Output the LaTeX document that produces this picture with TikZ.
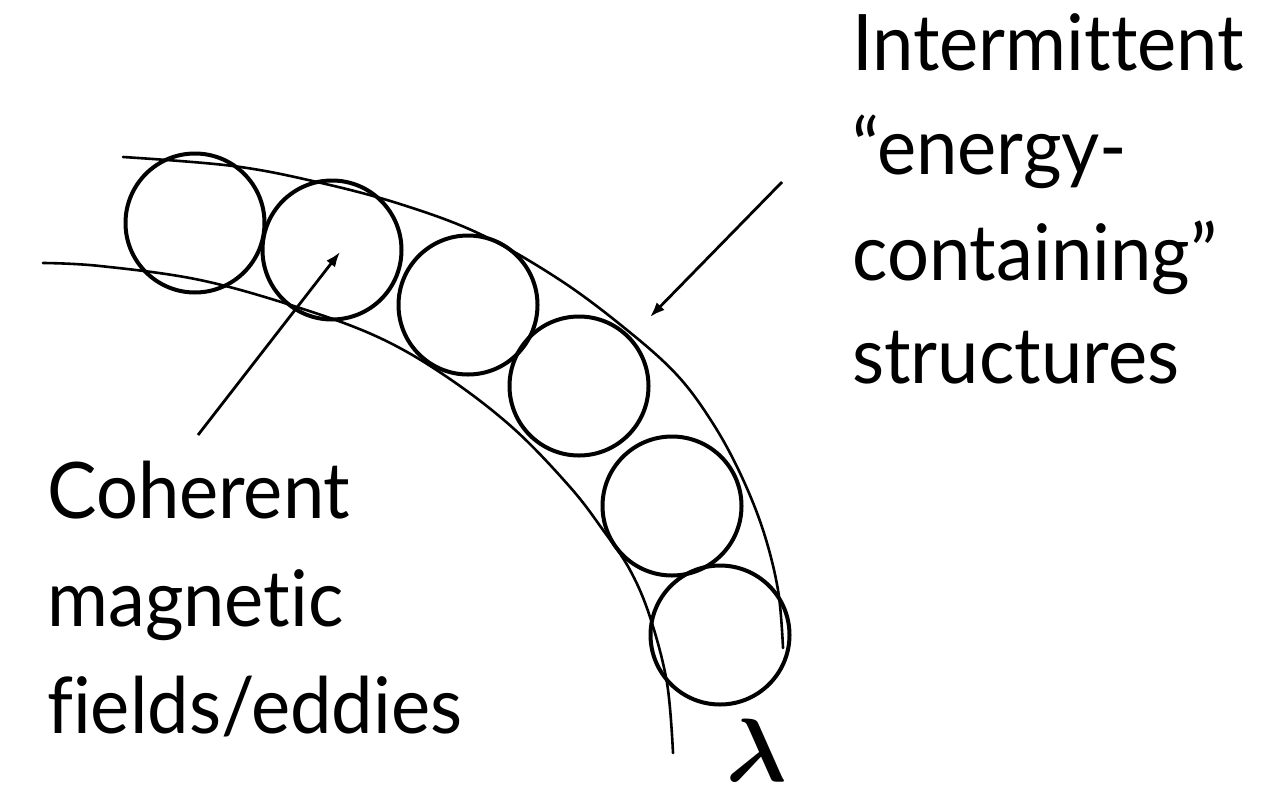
\documentclass[tikz,border=0pt]{standalone}
\usepackage{fix-cm}
\usepackage{fontspec}
\setmainfont{Lato}[Ligatures=NoCommon, FakeStretch=0.95]
\usepackage{bm}
\usetikzlibrary{arrows.meta}
\begin{document}
\begin{tikzpicture}[x=1pt,y=-1pt,
  eddy/.style={draw, line width=4pt, circle, minimum size=139pt, inner sep=0pt},
  band/.style={line width=2.6pt, line cap=round},
  pointer/.style={line width=2.8pt, -{Latex[length=15pt,width=11pt]}},
  lbl/.style={font=\fontsize{78}{104}\selectfont, inner sep=0pt, anchor=base west}]
\useasboundingbox (0,0) rectangle (1271,798);
% band edges
\draw[band] plot[smooth, tension=0.6] coordinates {(123,157) (233,166) (317,182) (400,204) (480,234) (560,280) (627,330) (677,375) (712,422) (740,473) (763,530) (778,590) (783,648)};
\draw[band] plot[smooth, tension=0.6] coordinates {(43,263) (100,266) (200,280) (300,308) (380,338) (447,377) (513,428) (570,487) (603,530) (630,570) (650,617) (667,683) (673,753)};
% eddies
\node[eddy] (e1) at (195,223) {};
\node[eddy] (e2) at (332,250) {};
\node[eddy] (e3) at (468,305) {};
\node[eddy] (e4) at (579,386) {};
\node[eddy] (e5) at (672,506) {};
\node[eddy] (e6) at (720,635) {};
% arrows
\coordinate (a1s) at (198,435);
\coordinate (a1e) at (340,252);
\coordinate (a2s) at (782,182);
\coordinate (a2e) at (650,317);
\draw[pointer] (a1s) -- (a1e);
\draw[pointer] (a2s) -- (a2e);
% labels
\node[lbl] (r1) at (852,70) {Intermittent};
\node[lbl] (r2) at (852,174) {“energy-};
\node[lbl] (r3) at (852,280) {containing”};
\node[lbl] (r4) at (852,383) {structures};
\node[lbl] (l1) at (47,518) {Coherent};
\node[lbl] (l2) at (47,626) {magnetic};
\node[lbl] (l3) at (47,733) {fields/eddies};
\node[inner sep=0pt, anchor=base west, font=\fontsize{90}{90}\selectfont] (lam) at (726,781) {$\bm{\lambda}$};
\end{tikzpicture}
\end{document}
